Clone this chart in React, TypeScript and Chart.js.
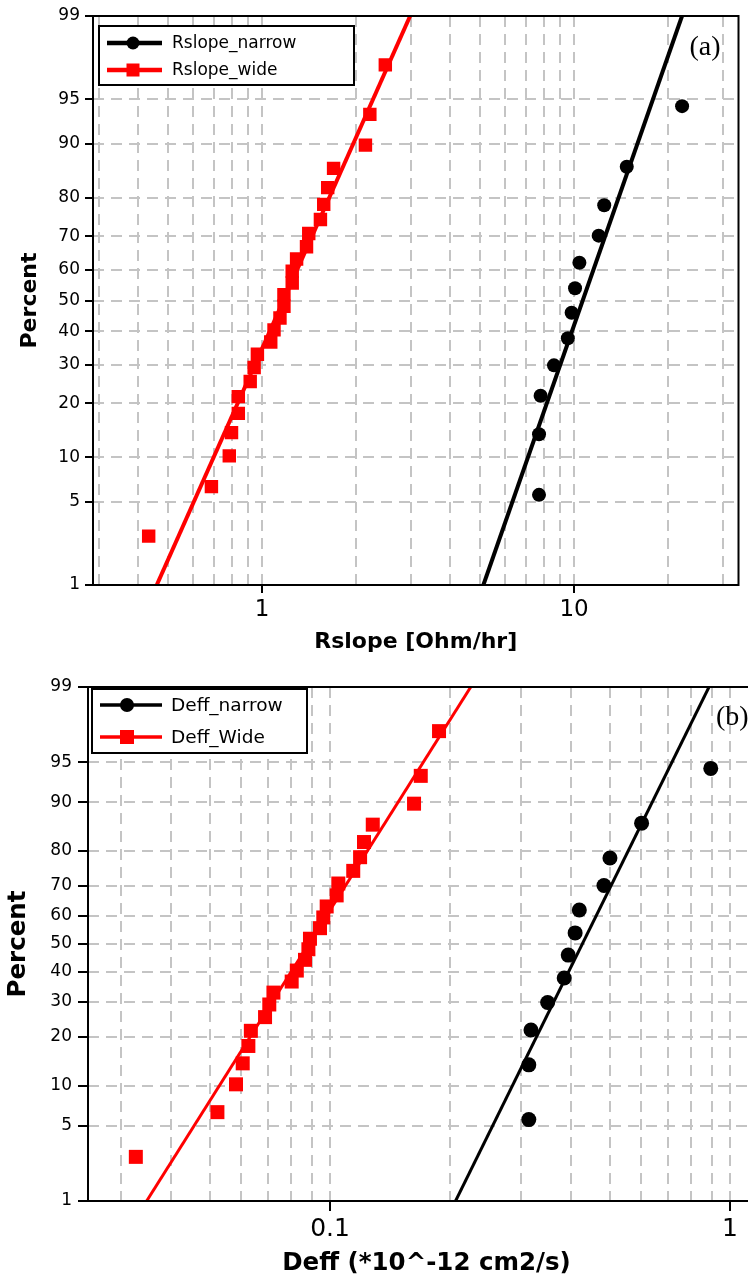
import React, { useEffect, useRef } from 'react';
import { Chart, registerables } from 'chart.js';

Chart.register(...registerables);

// ---------- data ----------
const percentTicks = [1, 5, 10, 20, 30, 40, 50, 60, 70, 80, 90, 95, 99];
const percentTickLabels = ['1', '5', '10', '20', '30', '40', '50', '60', '70', '80', '90', '95', '99'];

const narrowPercent = [5.6, 13.7, 21.8, 29.8, 37.9, 46.0, 54.0, 62.1, 70.2, 78.2, 86.3, 94.4];
const widePercent = [2.7, 6.4, 10.2, 14.0, 17.8, 21.6, 25.4, 29.2, 33.0, 36.7, 40.5, 44.3, 48.1,
  51.9, 55.7, 59.5, 63.3, 67.0, 70.8, 74.6, 78.4, 82.2, 86.0, 89.8, 93.6, 97.3];

const rslopeNarrow = [7.72, 7.72, 7.81, 8.62, 9.55, 9.82, 10.07, 10.4, 11.99, 12.49, 14.75, 22.19];
const rslopeWide = [0.433, 0.688, 0.785, 0.798, 0.839, 0.839, 0.916, 0.943, 0.966, 1.066, 1.092, 1.141,
  1.175, 1.175, 1.249, 1.249, 1.29, 1.388, 1.411, 1.538, 1.576, 1.623, 1.695, 2.144, 2.215, 2.483];

const deffNarrow = [0.314, 0.314, 0.318, 0.35, 0.385, 0.394, 0.41, 0.42, 0.484, 0.501, 0.601, 0.895];
const deffWide = [0.0327, 0.0523, 0.0582, 0.0605, 0.0625, 0.0634, 0.0688, 0.0705, 0.0722, 0.0802, 0.0826,
  0.0866, 0.0883, 0.0891, 0.0944, 0.0962, 0.0981, 0.1039, 0.1049, 0.1143, 0.1189, 0.1216, 0.1279,
  0.1622, 0.1686, 0.1873];

const fitPercent = [1, 99];
const rslopeNarrowFit = [5.12, 22.18];
const rslopeWideFit = [0.4596, 2.982];
const deffNarrowFit = [0.206, 0.886];
const deffWideFit = [0.0348, 0.2248];

const rslopeXTicks = [0.3, 0.4, 0.5, 0.6, 0.7, 0.8, 0.9, 1, 2, 3, 4, 5, 6, 7, 8, 9, 10, 20, 30];
const rslopeXMajor = [1, 10];
const deffXTicks = [0.03, 0.04, 0.05, 0.06, 0.07, 0.08, 0.09, 0.1, 0.2, 0.3, 0.4, 0.5, 0.6, 0.7, 0.8, 0.9, 1];
const deffXMajor = [0.1, 1];

// ---------- normal probability transform ----------
function probit(pct: number): number {
  const p = pct / 100;
  const a = [-3.969683028665376e1, 2.209460984245205e2, -2.759285104469687e2, 1.38357751867269e2, -3.066479806614716e1, 2.506628277459239];
  const b = [-5.447609879822406e1, 1.615858368580409e2, -1.556989798598866e2, 6.680131188771972e1, -1.328068155288572e1];
  const c = [-7.784894002430293e-3, -3.223964580411365e-1, -2.400758277161838, -2.549732539343734, 4.374664141464968, 2.938163982698783];
  const d = [7.784695709041462e-3, 3.224671290700398e-1, 2.445134137142996, 3.754408661907416];
  const plow = 0.02425;
  if (p < plow) {
    const q = Math.sqrt(-2 * Math.log(p));
    return (((((c[0] * q + c[1]) * q + c[2]) * q + c[3]) * q + c[4]) * q + c[5]) / ((((d[0] * q + d[1]) * q + d[2]) * q + d[3]) * q + 1);
  }
  if (p <= 1 - plow) {
    const q = p - 0.5;
    const r = q * q;
    return ((((((a[0] * r + a[1]) * r + a[2]) * r + a[3]) * r + a[4]) * r + a[5]) * q) / (((((b[0] * r + b[1]) * r + b[2]) * r + b[3]) * r + b[4]) * r + 1);
  }
  const q = Math.sqrt(-2 * Math.log(1 - p));
  return -(((((c[0] * q + c[1]) * q + c[2]) * q + c[3]) * q + c[4]) * q + c[5]) / ((((d[0] * q + d[1]) * q + d[2]) * q + d[3]) * q + 1);
}

type Panel = {
  width: number; height: number; top: number;
  pad: { left: number; top: number; right: number; bottom: number };
  yWidth: number; xHeight: number;
  xMin: number; xMax: number; xTicks: number[]; xMajor: number[];
  xTitle: string; narrowLabel: string; wideLabel: string;
  narrowX: number[]; wideX: number[]; narrowFit: number[]; wideFit: number[];
  yTickLen: number; yTickPad: number; xTickLen: number; xTickPad: number;
  yTickFont: number; xTickFont: number; titleFont: number; yTitlePad: number; xTitlePad: number;
  circleR: number; rectR: number; lineW: number;
  legend: { x: number; y: number; w: number; h: number; rows: number[]; l0: number; l1: number; m: number; tx: number; font: number; lw: number; cr: number; sq: number };
  tag: string; tagDx: number; tagDy: number; tagFont: number;
};

const FONT = '"DejaVu Sans", Verdana, sans-serif';

function buildConfig(P: Panel): any {
  const yMin = probit(fitPercent[0]);
  const yMax = probit(fitPercent[1]);
  const framePlugin = {
    id: 'frameLegend',
    afterDatasetsDraw(chart: any) {
      const { ctx, chartArea: a } = chart;
      ctx.save();
      ctx.strokeStyle = '#000';
      ctx.lineWidth = 2;
      ctx.strokeRect(a.left, a.top, a.right - a.left, a.bottom - a.top);
      // legend
      const L = P.legend;
      const bx = a.left + L.x, by = a.top + L.y;
      ctx.fillStyle = '#fff';
      ctx.fillRect(bx, by, L.w, L.h);
      ctx.strokeStyle = '#000';
      ctx.lineWidth = 2;
      ctx.strokeRect(bx, by, L.w, L.h);
      const ds = chart.data.datasets;
      [0, 1].forEach((k) => {
        const d = ds[k];
        const y = a.top + L.rows[k];
        ctx.strokeStyle = d.borderColor;
        ctx.lineWidth = L.lw;
        ctx.beginPath();
        ctx.moveTo(a.left + L.l0, y);
        ctx.lineTo(a.left + L.l1, y);
        ctx.stroke();
        ctx.fillStyle = d.backgroundColor;
        const mx = a.left + L.m;
        if (d.pointStyle === 'circle') {
          ctx.beginPath();
          ctx.arc(mx, y, L.cr, 0, Math.PI * 2);
          ctx.fill();
        } else {
          ctx.fillRect(mx - L.sq / 2, y - L.sq / 2, L.sq, L.sq);
        }
        ctx.fillStyle = '#000';
        ctx.font = `${L.font}px ${FONT}`;
        ctx.textAlign = 'left';
        ctx.textBaseline = 'middle';
        ctx.fillText(d.label, a.left + L.tx, y + 1);
      });
      // panel tag
      ctx.fillStyle = '#000';
      ctx.font = `${P.tagFont}px "Liberation Serif", "Times New Roman", serif`;
      ctx.textAlign = 'left';
      ctx.textBaseline = 'alphabetic';
      ctx.fillText(P.tag, a.right - P.tagDx, a.top + P.tagDy);
      ctx.restore();
    },
  };

  return {
    type: 'scatter',
    data: {
      datasets: [
        {
          label: P.narrowLabel,
          data: P.narrowX.map((x, i) => ({ x, y: probit(narrowPercent[i]) })),
          showLine: false,
          pointStyle: 'circle',
          pointRadius: P.circleR,
          pointBorderWidth: 0,
          backgroundColor: '#000',
          borderColor: '#000',
        },
        {
          label: P.wideLabel,
          data: P.wideX.map((x, i) => ({ x, y: probit(widePercent[i]) })),
          showLine: false,
          pointStyle: 'rect',
          pointRadius: P.rectR,
          pointBorderWidth: 0,
          backgroundColor: '#ff0000',
          borderColor: '#ff0000',
        },
        {
          label: 'fit narrow',
          data: P.narrowFit.map((x, i) => ({ x, y: probit(fitPercent[i]) })),
          showLine: true,
          pointRadius: 0,
          borderColor: '#000',
          borderWidth: P.lineW,
          backgroundColor: '#000',
        },
        {
          label: 'fit wide',
          data: P.wideFit.map((x, i) => ({ x, y: probit(fitPercent[i]) })),
          showLine: true,
          pointRadius: 0,
          borderColor: '#ff0000',
          borderWidth: P.lineW,
          backgroundColor: '#ff0000',
        },
      ],
    },
    options: {
      responsive: false,
      animation: false,
      devicePixelRatio: 1,
      events: [],
      layout: { padding: P.pad },
      plugins: { legend: { display: false }, tooltip: { enabled: false } },
      scales: {
        x: {
          type: 'logarithmic',
          position: 'bottom',
          min: P.xMin,
          max: P.xMax,
          afterBuildTicks: (s: any) => {
            s.ticks = P.xTicks.map((v) => ({ value: v, major: P.xMajor.includes(v) }));
          },
          afterFit: (s: any) => { s.height = P.xHeight; },
          ticks: {
            autoSkip: false,
            maxRotation: 0,
            minRotation: 0,
            padding: P.xTickPad,
            color: '#000',
            font: { family: FONT, size: P.xTickFont },
            callback: (v: number) => (P.xMajor.includes(v) ? String(v) : ''),
          },
          grid: {
            color: '#c4c4c4',
            lineWidth: 2,
            drawTicks: true,
            tickLength: P.xTickLen,
            tickWidth: 2,
            tickBorderDash: [],
            tickColor: (c: any) => (c.tick && P.xMajor.includes(c.tick.value) ? '#000' : 'rgba(0,0,0,0)'),
          },
          border: { display: false, dash: [11, 7] },
          title: {
            display: true,
            text: P.xTitle,
            color: '#000',
            font: { family: FONT, size: P.titleFont, weight: 'bold' },
            padding: { top: 0, bottom: P.xTitlePad },
          },
        },
        y: {
          type: 'linear',
          position: 'left',
          min: yMin,
          max: yMax,
          afterBuildTicks: (s: any) => {
            s.ticks = percentTicks.map((p) => ({ value: probit(p) }));
          },
          afterFit: (s: any) => { s.width = P.yWidth; },
          ticks: {
            autoSkip: false,
            padding: P.yTickPad,
            color: '#000',
            font: { family: FONT, size: P.yTickFont },
            callback: (_v: number, i: number) => percentTickLabels[i],
          },
          grid: {
            color: '#c4c4c4',
            lineWidth: 2,
            drawTicks: true,
            tickLength: P.yTickLen,
            tickWidth: 2,
            tickBorderDash: [],
            tickColor: '#000',
          },
          border: { display: false, dash: [11, 7] },
          title: {
            display: true,
            text: 'Percent',
            color: '#000',
            font: { family: FONT, size: P.titleFont, weight: 'bold' },
            padding: { top: P.yTitlePad, bottom: 0 },
          },
        },
      },
    },
    plugins: [framePlugin],
  };
}

const panelA: Panel = {
  width: 748, height: 660, top: 0,
  pad: { left: 0, top: 16, right: 6, bottom: 0 },
  yWidth: 93, xHeight: 75,
  xMin: 0.2871, xMax: 33.65, xTicks: rslopeXTicks, xMajor: rslopeXMajor,
  xTitle: 'Rslope [Ohm/hr]', narrowLabel: 'Rslope_narrow', wideLabel: 'Rslope_wide',
  narrowX: rslopeNarrow, wideX: rslopeWide, narrowFit: rslopeNarrowFit, wideFit: rslopeWideFit,
  yTickLen: 8, yTickPad: 5, xTickLen: 8, xTickPad: 3,
  yTickFont: 17, xTickFont: 23, titleFont: 22, yTitlePad: 17, xTitlePad: 4.5,
  circleR: 7, rectR: 9.5, lineW: 4,
  legend: { x: 6, y: 10, w: 255, h: 59, rows: [27, 54], l0: 14, l1: 69, m: 40, tx: 79, font: 17, lw: 4.5, cr: 6.5, sq: 13 },
  tag: '(a)', tagDx: 49, tagDy: 39, tagFont: 28,
};

const panelB: Panel = {
  width: 790, height: 621, top: 660,
  pad: { left: 0, top: 27, right: 25, bottom: 0 },
  yWidth: 88, xHeight: 80,
  xMin: 0.02483, xMax: 1.223, xTicks: deffXTicks, xMajor: deffXMajor,
  xTitle: 'Deff (*10^-12 cm2/s)', narrowLabel: 'Deff_narrow', wideLabel: 'Deff_Wide',
  narrowX: deffNarrow, wideX: deffWide, narrowFit: deffNarrowFit, wideFit: deffWideFit,
  yTickLen: 10, yTickPad: 6, xTickLen: 10, xTickPad: 3,
  yTickFont: 17, xTickFont: 25, titleFont: 24.5, yTitlePad: 4, xTitlePad: 2.5,
  circleR: 7.5, rectR: 9.9, lineW: 3,
  legend: { x: 4, y: 2, w: 215, h: 64, rows: [18, 50], l0: 12, l1: 74, m: 39, tx: 83, font: 18.5, lw: 3.5, cr: 7, sq: 14 },
  tag: '(b)', tagDx: 49, tagDy: 38, tagFont: 28,
};

function PanelChart({ P }: { P: Panel }) {
  const ref = useRef<HTMLCanvasElement | null>(null);
  useEffect(() => {
    if (!ref.current) return;
    const chart = new Chart(ref.current, buildConfig(P));
    return () => chart.destroy();
  }, [P]);
  return (
    <canvas
      ref={ref}
      width={P.width}
      height={P.height}
      style={{ position: 'absolute', left: 0, top: P.top, width: P.width, height: P.height }}
    />
  );
}

export default function App() {
  return (
    <div
      style={{
        position: 'absolute', left: 0, top: 0, width: 748, height: 1281,
        overflow: 'hidden', background: '#fff',
      }}
    >
      <PanelChart P={panelA} />
      <PanelChart P={panelB} />
    </div>
  );
}
